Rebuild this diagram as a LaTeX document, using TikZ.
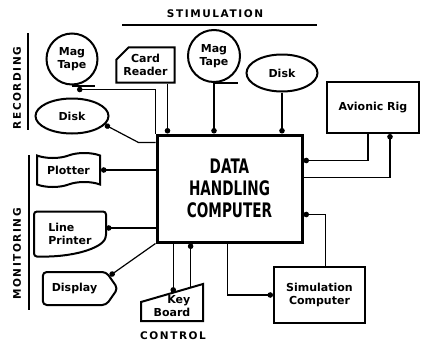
\documentclass[tikz,border=0pt]{standalone}
\usepackage{fontspec}
\setmainfont{DejaVu Sans}
\usepackage{graphicx}
\usepackage{tikz}
\usetikzlibrary{arrows.meta,calc,shapes.geometric,shapes.misc,shapes.symbols}
\newcommand{\narrowtxt}[1]{\scalebox{0.68}[1]{#1}}
\tikzset{unit/.style={draw,line width=2pt,align=center,inner sep=1pt,font=\fontsize{11}{12.5}\selectfont\bfseries},hub/.style={draw,line width=3pt,minimum width=145pt,minimum height=107pt,align=center,font=\fontsize{20}{22}\selectfont\bfseries},link/.style={line width=1.2pt,-{Circle[length=5.5pt]}},tag/.style={font=\fontsize{10.5}{12}\selectfont\bfseries\addfontfeature{LetterSpace=15}},rule/.style={line width=1.2pt}}

\begin{document}
\begin{tikzpicture}[x=1pt,y=-1pt]
\useasboundingbox (0,0) rectangle (421,343);
% central unit
\node[hub] (dhc) at (229.5,188.5) {\narrowtxt{DATA}\\\narrowtxt{HANDLING}\\\narrowtxt{COMPUTER}};
% recording
\node[unit,circle,minimum size=51pt] (rtape) at (72,59) {Mag\\Tape};
\node[unit,ellipse,minimum width=73pt,minimum height=35pt] (rdisk) at (72,116) {Disk};
% stimulation
\node[unit,chamfered rectangle,chamfered rectangle corners=north west,chamfered rectangle xsep=6pt,chamfered rectangle ysep=6pt,minimum width=55pt,minimum height=34pt] (card) at (145.5,65) {Card\\Reader};
\node[unit,circle,minimum size=52pt] (stape) at (214,56) {Mag\\Tape};
\node[unit,ellipse,minimum width=71pt,minimum height=37pt] (sdisk) at (282,73) {Disk};
\node[unit,minimum width=92pt,minimum height=51pt] (rig) at (373,107.5) {Avionic Rig};
\node[unit,minimum width=91pt,minimum height=56pt] (sim) at (319.5,295) {Simulation\\Computer};
% monitoring
\node[unit,tape,minimum width=63pt,minimum height=34pt] (plot) at (68.5,170) {Plotter};
\node[unit,draw=none,minimum width=70pt,minimum height=43pt,align=left] (lp) at (70,234) {Line\\Printer};
\draw[line width=2pt,rounded corners=3pt] (lp.north west) -- (lp.north east) -- ([yshift=19pt]lp.south east) .. controls ([xshift=-6pt,yshift=9pt]lp.south east) and ([xshift=42pt,yshift=-1pt]lp.south west) .. (lp.south west) -- cycle;
\node[unit,signal,signal to=east,signal pointer angle=110,rounded corners=4pt,minimum width=75pt,minimum height=33pt] (disp) at (74.5,288.5) {Display};
% control
\node[unit,draw=none,minimum width=60pt,minimum height=28pt,align=right] (kb) at (172,306) {Key\\Board};
\coordinate (kbtl) at ([yshift=-11pt]kb.north west);
\coordinate (kbtr) at ([yshift=7pt]kb.north east);
\draw[line width=2pt] (kb.south west) -- (kb.south east) -- (kbtr) -- (kbtl) -- cycle;
\coordinate (kbA) at ($(kbtl)!0.52!(kbtr)$);
\coordinate (kbB) at ($(kbtl)!0.8!(kbtr)$);
% tape tails
\draw[line width=2pt] (rtape.south) -- ++(23,0);
\draw[line width=2pt] (stape.south) -- ++(24,0);
% connectors
\draw[link] (dhc.north west) |- ([xshift=5pt,yshift=-4pt]rtape.south);
\draw[link] ([yshift=-9pt]dhc.north west) -- ++(-17,0) -- (rdisk.-15);
\coordinate (cardout) at ([xshift=22pt]card.south);
\draw[link] (cardout) -- (cardout |- dhc.north);
\draw[link] (stape.south) -- (stape.south |- dhc.north);
\draw[link] (sdisk.south) -- (sdisk.south |- dhc.north);
\draw[link] ([xshift=-5pt]rig.south) |- ([yshift=28pt]dhc.east);
\draw[link] ([yshift=11pt]dhc.east) -| ([xshift=17pt]rig.south);
\draw[link] ([xshift=6pt]sim.north) |- ([yshift=-26pt]dhc.east);
\draw[link] ([xshift=-2pt]dhc.south) |- (sim.west);
\draw[link] (dhc.west |- plot.east) -- (plot.east);
\coordinate (lpin) at ([yshift=6pt]lp.east);
\draw[link] (dhc.west |- lpin) -- (lpin);
\draw[link] (dhc.south west) -- (disp.20);
\draw[link] (kbA |- dhc.south) -- (kbA);
\draw[link] (kbB) -- (kbB |- dhc.south);
% group labels
\node[tag] (stim) at (215,14) {STIMULATION};
\node[tag,rotate=90] (rec) at (17,88) {RECORDING};
\node[tag,rotate=90] (mon) at (17,254) {MONITORING};
\node[tag] (ctl) at (173,336) {CONTROL};
\draw[rule] (122,25) -- (317,25);
\draw[rule] (28,33) -- (28,130);
\draw[rule] (29,155) -- (29,310);
\end{tikzpicture}
\end{document}
